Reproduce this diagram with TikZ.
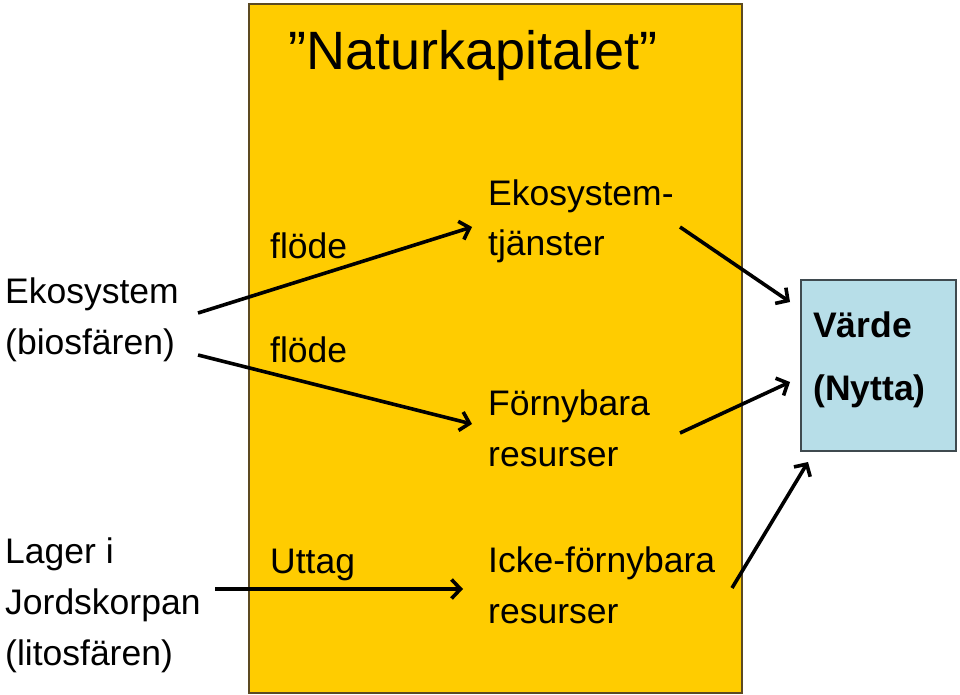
\documentclass[tikz,border=0pt]{standalone}
\usepackage{fontspec}
\setmainfont{Liberation Sans}
\usetikzlibrary{arrows.meta}
\definecolor{capyellow}{HTML}{FFCC00}
\definecolor{capborder}{HTML}{5C4A22}
\definecolor{valblue}{HTML}{B7DEE8}
\definecolor{valborder}{HTML}{3F4A4F}
\tikzset{
  txt/.style={anchor=base west, inner sep=0pt, font=\fontsize{35.5}{42}\selectfont},
  boldtxt/.style={anchor=base west, inner sep=0pt, font=\fontsize{35.5}{42}\selectfont\bfseries},
  titletxt/.style={anchor=base west, inner sep=0pt, font=\fontsize{54}{60}\selectfont},
  flow/.style={line width=3.6pt, -{Straight Barb[length=9pt,width=19pt,line width=3.6pt]}},
}
\begin{document}
\begin{tikzpicture}[x=1pt,y=-1pt]
\useasboundingbox (0,0) rectangle (960,695);
% main box
\node[draw=capborder, line width=2pt, fill=capyellow, minimum width=493pt, minimum height=689pt, anchor=north west, inner sep=0pt] (kapital) at (248,3) {};
% value box
\node[draw=valborder, line width=1.5pt, fill=valblue, minimum width=155pt, minimum height=171pt, anchor=north west, inner sep=0pt] (varde) at (800,279) {};
% title
\node[titletxt] (title) at (288,70) {”Naturkapitalet”};
% left labels
\node[txt] (eko1) at (5,303) {Ekosystem};
\node[txt] (eko2) at (5,354) {(biosfären)};
\node[txt] (lag1) at (5,563) {Lager i};
\node[txt] (lag2) at (5,614) {Jordskorpan};
\node[txt] (lag3) at (5,665) {(litosfären)};
% flow labels
\node[txt] (flode1) at (270,258) {flöde};
\node[txt] (flode2) at (270,362) {flöde};
\node[txt] (uttag) at (270,573) {Uttag};
% resources
\node[txt] (ekt1) at (488,205) {Ekosystem-};
\node[txt] (ekt2) at (488,255) {tjänster};
\node[txt] (forn1) at (488,415) {Förnybara};
\node[txt] (forn2) at (488,466) {resurser};
\node[txt] (icke1) at (488,572) {Icke-förnybara};
\node[txt] (icke2) at (488,623) {resurser};
% value text
\node[boldtxt] (v1) at (813,337) {Värde};
\node[boldtxt] (v2) at (813,400) {(Nytta)};
% arrow endpoints
\coordinate (a1s) at (198,313);
\coordinate (a1e) at (472,227);
\coordinate (a2s) at (198,355);
\coordinate (a2e) at (472,424);
\coordinate (a3s) at (215,589);
\coordinate (a3e) at (463,589);
\coordinate (a4s) at (680,227);
\coordinate (a4e) at (790,302);
\coordinate (a5s) at (680,433);
\coordinate (a5e) at (790,382);
\coordinate (a6s) at (732,588);
\coordinate (a6e) at (808,462);
\draw[flow] (a1s) -- (a1e);
\draw[flow] (a2s) -- (a2e);
\draw[flow] (a3s) -- (a3e);
\draw[flow] (a4s) -- (a4e);
\draw[flow] (a5s) -- (a5e);
\draw[flow] (a6s) -- (a6e);
\end{tikzpicture}
\end{document}
